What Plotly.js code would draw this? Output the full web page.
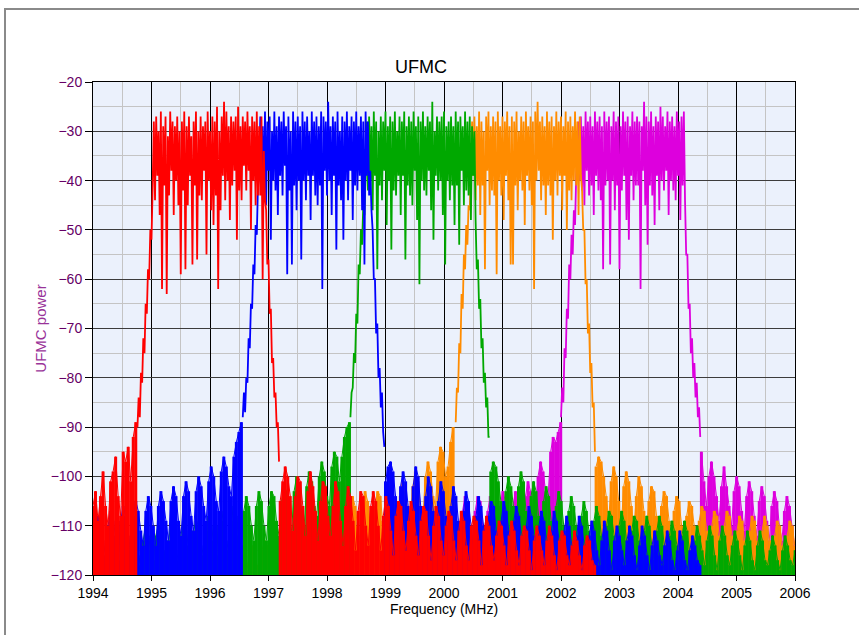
<!DOCTYPE html>
<html><head><meta charset="utf-8">
<script src="https://cdn.plot.ly/plotly-3.0.1.min.js"></script>
<style>
html,body{margin:0;padding:0;background:#fff;}
#wrap{position:relative;width:859px;height:635px;overflow:hidden;}
#chart{position:absolute;left:0;top:0;width:859px;height:635px;}
#frame{position:absolute;left:4px;top:8px;width:900px;height:700px;border-left:2px solid #8a8a8a;border-top:2px solid #8a8a8a;pointer-events:none;}
</style></head><body>
<div id="wrap"><div id="chart"></div><div id="frame"></div></div>
<script>
// ---- frequency starts (MHz) of each sampled segment ----
const redLeftStart = 1994.00, redCoreStart = 1994.76, redRightStart = 1997.20;
const blueLeftStart = 1994.00, blueCoreStart = 1996.56, blueRightStart = 1999.00;
const greenLeftStart = 1994.60, greenCoreStart = 1998.40, greenRightStart = 2000.80;
const orangeLeftStart = 1996.20, orangeCoreStart = 2000.20, orangeRightStart = 2002.60;
const magentaLeftStart = 1999.20, magentaCoreStart = 2002.00, magentaRightStart = 2004.40;
const floorStep = 0.043, coreStep = 0.02;

// ---- power values (dB) ----
const redLeft = [-106,-103,-109,-104,-99,-106,-110,-101,-99,-96,-104,-108,-95,-97,-94,-101,-92,-89];
const redCore = [
-90,-84,-88,-79,-81,-72,-75,-65,-67,-58,-60,-50,-52,-41,
-28,-44,-27,-39,-30,-47,-26,-62,-29,-41,
-27,-63,-31,-43,-26,-38,-28,-47,-29,-40,
-27,-45,-30,-59,-28,-42,-26,-58,-29,-45,
-27,-39,-31,-57,-28,-41,-26,-56,-30,-43,
-27,-44,-29,-38,-28,-55,-26,-40,-30,-46,
-27,-49,-28,-43,-25,-62,-30,-46,-27,-39,
-24,-44,-26,-40,-29,-48,-27,-41,-28,-38,
-27,-52,-25,-42,-29,-44,-27,-37,-28,-42,
-26,-38,-29,-50,-27,-40,-28,-45,-26,-43,
-29,-43,-27,-60,
-34,-44,-46,-57,-56,-67,-66,-77,-76,-84,-83,-90,-89,-97];
const redRight = [
-105,-101,-98,-100,-104, -111,-104,-100,-101,-106, -112,-103,-99,-102,-107, -113,-105,-101,-102,-108,
-112,-106,-101,-103,-109, -114,-106,-102,-104,-109, -115,-107,-103,-104,-110, -114,-106,-103,-105,-110,
-115,-108,-104,-106,-111, -116,-108,-105,-106,-111, -115,-109,-105,-107,-112, -116,-109,-106,-107,-112,
-117,-110,-106,-108,-113, -116,-110,-107,-108,-113, -117,-111,-107,-109,-114, -117,-110,-108,-109,-113,
-118,-111,-108,-110,-114, -117,-112,-109,-110,-114, -118,-112,-109,-111,-115, -118,-112,-110,-111,-115,
-119,-113,-110,-112,-115, -118,-113,-110,-112,-116, -119,-113,-111,-112,-116, -118,-114,-111,-113,-116,
-119,-114,-112,-113,-117, -118];

const blueLeft = [
-117,-111,-108,-109,-113, -116,-110,-107,-109,-112, -117,-109,-106,-108,-112, -115,-108,-105,-107,-111,
-114,-107,-104,-106,-110, -114,-106,-103,-105,-109, -113,-105,-102,-104,-109, -112,-104,-101,-103,-108,
-111,-103,-100,-102,-106, -109,-101,-98,-100,-105, -107,-99,-96,-98,-102, -104,-96,-93,-91,-89];
const blueCore = [
-88,-83,-87,-80,-81,-72,-74,-65,-66,-57,-59,-49,-51,-41,-38,
-27,-41,-29,-43,-26,-45,-28,-38,-27,-52,
-30,-40,-26,-42,-29,-47,-27,-39,-28,-43,
-26,-37,-29,-59,-27,-42,-30,-57,-26,-41,
-28,-46,-27,-40,-29,-56,-26,-40,-28,-44,
-27,-39,-30,-48,-26,-39,-28,-43,-27,-45,
-29,-41,-26,-62,-27,-38,-28,-43,-24,-40,
-29,-47,-27,-39,-28,-54,-26,-41,-30,-44,
-27,-52,-28,-40,-26,-44,-29,-38,-27,-48,
-28,-41,-26,-42,-29,-39,-27,-46,-28,-57,
-26,-39,-28,-43,
-38,-46,-50,-60,-60,-71,-69,-80,-78,-86,-83,-91,-94];
const blueRight = [
-101,-98,-97,-99,-104, -110,-102,-99,-101,-106, -111,-102,-98,-100,-106, -112,-104,-100,-102,-107,
-113,-105,-101,-103,-108, -113,-106,-102,-104,-109, -114,-107,-103,-105,-110, -115,-108,-104,-106,-110,
-115,-108,-105,-106,-111, -116,-109,-105,-107,-111, -116,-109,-106,-108,-112, -117,-110,-106,-108,-112,
-116,-110,-107,-109,-113, -117,-111,-107,-109,-113, -118,-111,-108,-110,-114, -117,-112,-108,-110,-114,
-118,-112,-109,-111,-115, -118,-113,-109,-111,-115, -119,-113,-110,-112,-115, -118,-113,-110,-112,-116,
-119,-114,-110,-112,-116, -119,-114,-111,-113,-116, -118,-114,-111,-113,-117, -119,-115,-111,-113,-117,
-119,-115,-112,-114,-117, -118];

const greenLeft = [
-118,-114,-112,-113,-116, -118,-113,-110,-112,-115, -117,-112,-110,-111,-115, -118,-113,-110,-112,-115,
-117,-112,-109,-111,-114, -117,-111,-109,-110,-114, -116,-111,-108,-110,-113, -116,-110,-107,-109,-113,
-115,-109,-106,-108,-112, -114,-107,-104,-106,-110, -113,-106,-103,-105,-110, -113,-106,-103,-104,-109,
-112,-105,-102,-103,-108, -111,-103,-100,-102,-107, -110,-102,-99,-101,-106, -108,-100,-97,-99,-104,
-106,-98,-95,-96,-101, -96,-92,-90,-89];
const greenCore = [
-88,-83,-82,-75,-77,-67,-69,-57,-59,-50,-53,-45,-47,-39,
-28,-42,-27,-40,-29,-46,-26,-39,-28,-58,
-30,-41,-27,-44,-28,-38,-26,-49,-29,-40,
-27,-54,-28,-42,-26,-43,-30,-39,-27,-47,
-28,-39,-26,-56,-29,-41,-27,-43,-28,-45,
-26,-38,-29,-48,-27,-61,-28,-40,-26,-42,
-29,-43,-27,-38,-28,-46,-24,-52,-30,-39,
-27,-42,-28,-40,-27,-47,-26,-57,-29,-40,
-28,-44,-27,-41,-29,-49,-26,-41,-28,-53,
-27,-38,-29,-45,-26,-42,-28,-43,-27,-48,
-29,-39,-30,
-48,-58,-56,-66,-64,-74,-72,-81,-79,-86,-84,-92,-92];
const greenRight = [
-99,-97,-98,-101,-105, -110,-103,-100,-102,-106, -111,-102,-99,-101,-107, -112,-104,-101,-103,-108,
-113,-105,-102,-104,-109, -114,-106,-103,-105,-110, -114,-107,-104,-106,-110, -115,-108,-105,-107,-111,
-116,-109,-106,-108,-112, -116,-110,-107,-108,-112, -117,-110,-107,-109,-113, -117,-111,-108,-109,-113,
-116,-111,-108,-110,-114, -117,-111,-108,-110,-114, -118,-112,-109,-111,-114, -117,-112,-109,-111,-115,
-118,-113,-110,-112,-115, -118,-113,-110,-112,-116, -119,-113,-110,-112,-116, -118,-114,-111,-113,-116,
-119,-114,-111,-113,-117, -119,-114,-111,-113,-117, -118,-115,-112,-114,-117, -119,-115,-112,-114,-117,
-118,-115];

const orangeLeft = [
-120,-118,-116,-117,-119, -120,-117,-115,-116,-119, -119,-116,-114,-115,-118, -119,-115,-113,-114,-117,
-118,-114,-112,-113,-116, -118,-113,-111,-112,-116, -117,-112,-110,-111,-115, -116,-111,-108,-110,-114,
-115,-109,-106,-108,-112, -114,-108,-105,-107,-111, -114,-107,-104,-106,-110, -113,-106,-103,-105,-110,
-112,-106,-103,-104,-109, -112,-105,-102,-104,-108, -111,-104,-101,-103,-107, -110,-102,-99,-101,-106,
-108,-100,-97,-99,-104, -106,-97,-94,-95,-100, -98,-93,-90];
const orangeCore = [
-89,-82,-83,-73,-75,-63,-66,-55,-58,-49,-53,-45,-46,-37,
-28,-39,-27,-44,-29,-41,-26,-47,-28,-41,
-30,-58,-27,-38,-26,-45,-29,-42,-27,-43,
-28,-59,-26,-40,-29,-43,-27,-48,-28,-39,
-26,-44,-29,-57,-27,-57,-28,-41,-26,-46,
-30,-40,-27,-42,-28,-49,-26,-39,-29,-42,
-27,-45,-28,-62,-26,-40,-24,-38,-28,-44,
-27,-41,-29,-47,-26,-41,-28,-43,-27,-52,
-29,-40,-26,-43,-28,-39,-27,-46,-29,-39,
-26,-50,-28,-42,-27,-44,-29,-40,-26,-41,
-28,-47,-27,-39,
-42,-50,-50,-61,-60,-71,-69,-79,-77,-86,-85,-95];
const orangeRight = [
-98,-96,-97,-100,-104, -109,-101,-98,-100,-105, -110,-102,-99,-101,-106, -111,-104,-100,-102,-107,
-112,-105,-102,-103,-108, -113,-106,-103,-104,-109, -114,-107,-104,-105,-110, -114,-108,-105,-106,-110,
-115,-109,-106,-107,-111, -116,-110,-107,-108,-112, -115,-110,-107,-108,-112, -116,-111,-108,-109,-113,
-116,-111,-108,-109,-113, -117,-111,-108,-110,-113, -117,-112,-109,-110,-114, -117,-112,-109,-110,-114];

const magentaLeft = [
-118,-114,-111,-112,-116, -117,-112,-109,-111,-115, -117,-111,-108,-110,-114, -116,-110,-107,-109,-113,
-115,-108,-105,-107,-112, -114,-107,-104,-106,-111, -114,-107,-104,-105,-110, -113,-107,-104,-106,-110,
-113,-106,-103,-105,-110, -112,-106,-103,-104,-109, -111,-104,-101,-103,-107, -108,-100,-97,-99,-103,
-104,-95,-92,-93,-91, -89];
const magentaCore = [
-88,-82,-85,-74,-76,-66,-68,-57,-60,-51,-55,-46,-49,-39,-36,
-28,-40,-27,-42,-29,-45,-26,-38,-28,-43,
-27,-41,-29,-47,-26,-39,-28,-42,-27,-44,
-29,-58,-26,-41,-28,-40,-27,-57,-29,-40,
-26,-46,-28,-41,-27,-58,-29,-42,-26,-39,
-28,-48,-27,-52,-29,-39,-26,-44,-28,-41,
-27,-41,-28,-62,-29,-38,-24,-45,-27,-53,
-28,-41,-26,-43,-29,-49,-27,-39,-28,-46,
-25,-40,-27,-42,-29,-38,-26,-47,-28,-40,
-27,-42,-29,-44,-26,-39,-28,-48,-27,-41,
-26,
-44,-55,-55,-66,-65,-75,-72,-80,-77,-84,-81,-88,-86,-92];
const magentaRight = [
-95,-101,-106,-100,-97, -100,-104,-109,-102,-98, -102,-106,-110,-103,-100, -102,-107,-111,-104,-101,
-103,-108,-112,-105,-102, -104,-109,-113,-106,-103, -105,-110,-113,-107,-104, -106,-110,-114];

// ---- colours ----
const cRed = '#FF0000', cBlue = '#0000FF', cGreen = '#00A800', cOrange = '#FF8C00', cMagenta = '#DD00DD';

function floorTrace(y, x0, color) {
  return {type:'scatter', mode:'lines', x0:x0, dx:floorStep, y:y,
    line:{color:color, width:1, simplify:false},
    error_y:{type:'constant', symmetric:false, value:0, valueminus:45, color:color, thickness:3, width:0},
    hoverinfo:'skip', showlegend:false};
}
function coreTrace(y, x0, color) {
  return {type:'scatter', mode:'lines', x0:x0, dx:coreStep, y:y,
    line:{color:color, width:1.8, simplify:false}, hoverinfo:'skip', showlegend:false};
}

const traces = [
  floorTrace(magentaLeft, magentaLeftStart, cMagenta), coreTrace(magentaCore, magentaCoreStart, cMagenta), floorTrace(magentaRight, magentaRightStart, cMagenta),
  floorTrace(orangeLeft, orangeLeftStart, cOrange), coreTrace(orangeCore, orangeCoreStart, cOrange), floorTrace(orangeRight, orangeRightStart, cOrange),
  floorTrace(greenLeft, greenLeftStart, cGreen), coreTrace(greenCore, greenCoreStart, cGreen), floorTrace(greenRight, greenRightStart, cGreen),
  floorTrace(blueLeft, blueLeftStart, cBlue), coreTrace(blueCore, blueCoreStart, cBlue), floorTrace(blueRight, blueRightStart, cBlue),
  floorTrace(redLeft, redLeftStart, cRed), coreTrace(redCore, redCoreStart, cRed), floorTrace(redRight, redRightStart, cRed)
];

const layout = {
  width: 859, height: 635,
  margin: {l:93, r:64, t:82, b:60},
  paper_bgcolor: '#ffffff',
  plot_bgcolor: '#EBF1FC',
  showlegend: false,
  font: {family: 'Liberation Sans, Arial, sans-serif', size: 14, color: '#000'},
  title: {text: 'UFMC', xref: 'container', x: 421/859, xanchor: 'center', yref: 'container', y: 1 - 67/635, yanchor: 'middle',
          font: {family: 'Liberation Sans, Arial, sans-serif', size: 18, color: '#000'}},
  xaxis: {range: [1994, 2006], tick0: 1994, dtick: 1, ticks: 'outside', ticklen: 5, tickcolor: '#000',
          showline: true, linecolor: '#000', linewidth: 1, mirror: true,
          showgrid: true, gridcolor: '#000', gridwidth: 1, zeroline: false,
          minor: {dtick: 0.5, showgrid: true, gridcolor: '#C4C4C4', gridwidth: 1},
          tickfont: {size: 14, color: '#000'},
          title: {text: 'Frequency (MHz)', font: {size: 14, color: '#000'}, standoff: 4}},
  yaxis: {range: [-120, -20], tick0: -120, dtick: 10, ticks: 'outside', ticklen: 7, tickcolor: '#000',
          showline: true, linecolor: '#000', linewidth: 1, mirror: true,
          showgrid: true, gridcolor: '#3c3c3c', gridwidth: 1, zeroline: false,
          minor: {dtick: 5, showgrid: true, gridcolor: '#C4C4C4', gridwidth: 1},
          tickfont: {size: 14, color: '#660066'},
          title: {text: 'UFMC power', font: {size: 15, color: '#993399'}, standoff: 0}}
};

Plotly.newPlot('chart', traces, layout, {displayModeBar: false, staticPlot: true});
</script></body></html>
